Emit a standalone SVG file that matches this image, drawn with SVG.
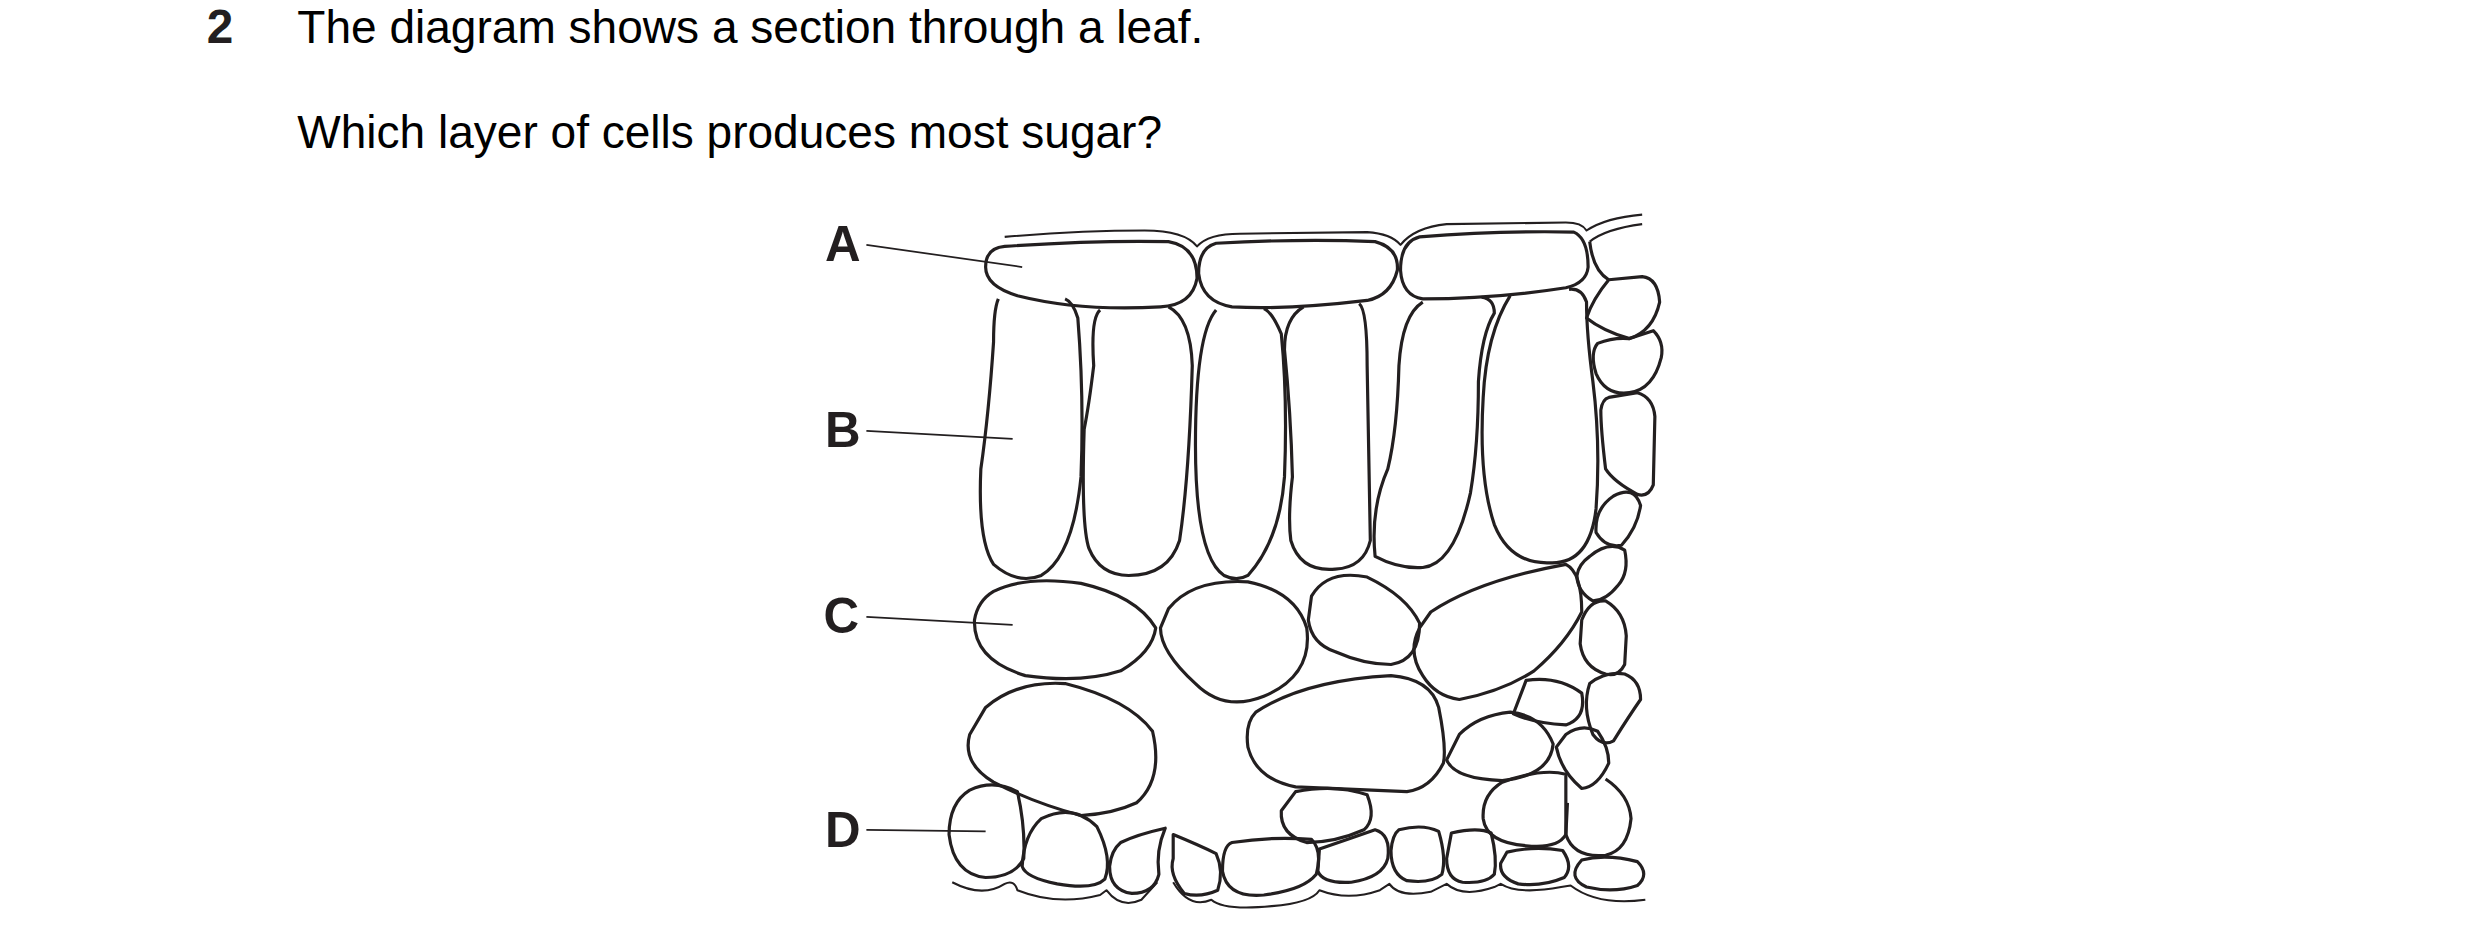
<svg xmlns="http://www.w3.org/2000/svg" width="2480" height="944" viewBox="0 0 2480 944">
<style>
.c{fill:none;stroke:#231f20;stroke-width:2;stroke-linejoin:round}
.l{fill:none;stroke:#231f20;stroke-width:1.1}
.t{font-family:"Liberation Sans",Arial,sans-serif;fill:#000}
.b{font-family:"Liberation Sans",Arial,sans-serif;font-weight:bold;fill:#231f20}
</style>
<rect width="2480" height="944" fill="#fff"/>
<g transform="scale(1.5897)">
<g id="text">
<text class="b" x="130" y="27" font-size="30">2</text>
<text class="t" x="187" y="27" font-size="28.5" textLength="570" lengthAdjust="spacingAndGlyphs">The diagram shows a section through a leaf.</text>
<text class="t" x="187" y="93" font-size="28.5" textLength="544" lengthAdjust="spacingAndGlyphs">Which layer of cells produces most sugar?</text>
</g>
<g id="labels">
<text class="b" x="519" y="164" font-size="31">A</text>
<text class="b" x="519" y="281" font-size="31">B</text>
<text class="b" x="518" y="398" font-size="31">C</text>
<text class="b" x="519" y="533" font-size="31">D</text>
</g>
<g id="connectors">
<path class="l" d="M545,154 L643,168"/>
<path class="l" d="M545,271 L637,276"/>
<path class="l" d="M545,388 L637,393"/>
<path class="l" d="M545,522 L620,523"/>
</g>
<g id="cuticle">
<path class="c" style="stroke-width:1.3" d="M632,149 Q680,145 720,145 Q745,145 753,155 Q760,147 780,147 L860,146 Q875,147 881,154 Q890,143 910,141 L985,140 Q995,140 998,145 Q1010,137 1033,135"/>
<path class="c" style="stroke-width:1.3" d="M1000,152 Q1010,144 1033,141"/>
<path class="c" style="stroke-width:1.3" d="M599,555 Q618,565 632,556 Q638,553 640,560 Q665,570 692,563 L696,560 Q705,572 718,566 L728,555 M738,555 Q748,572 762,566 Q770,573 800,570 Q825,568 830,560 Q848,567 868,560 L874,556 Q880,565 900,561 L910,556 Q920,565 940,558 L944,556 Q955,563 982,558 L988,557 Q1005,570 1035,566"/>
</g>
<g id="upper-epidermis">
<path class="c" d="M632,155 Q690,151 735,152 Q753,155 753,175 Q750,192 730,193 Q680,196 640,186 Q620,180 620,168 Q620,156 632,155Z"/>
<path class="c" d="M765,153 Q820,150 865,152 Q880,156 879,170 Q875,186 860,189 Q810,195 775,193 Q756,190 754,172 Q754,156 765,153Z"/>
<path class="c" d="M893,149 Q945,145 990,146 Q999,150 999,168 Q998,178 985,181 Q940,188 895,188 Q882,186 881,170 Q881,152 893,149Z"/>
<path class="c" d="M1000,152 Q1002,170 1012,176"/>
</g>
<g id="palisade">
<path class="c" d="M628,188 Q625,195 625,215 Q622,260 617,295 Q615,340 625,355 Q640,368 655,362 Q675,350 680,300 Q682,250 678,200 Q675,190 670,188"/>
<path class="c" d="M692,195 Q686,200 688,230 Q685,255 682,270 Q680,330 685,345 Q692,362 710,362 Q735,362 742,340 Q748,300 750,230 Q749,200 735,193"/>
<path class="c" d="M765,195 Q752,210 752,280 Q752,350 770,362 Q778,366 785,362 Q805,340 808,300 Q810,250 806,210 Q800,196 795,194"/>
<path class="c" d="M820,193 Q808,200 808,220 Q812,260 813,300 Q810,325 812,340 Q818,360 840,358 Q858,357 862,340 L860,230 Q860,195 855,191"/>
<path class="c" d="M895,190 Q882,198 880,230 Q879,270 873,295 Q862,320 865,350 Q880,358 895,357 Q915,355 925,310 Q930,280 930,240 Q932,210 940,197 Q940,188 932,187"/>
<path class="c" d="M950,186 Q935,210 933,250 Q930,300 940,330 Q950,355 975,354 Q1000,355 1004,320 Q1007,280 1002,240 Q998,210 998,190 Q995,181 987,182"/>
</g>
<g id="edge-cells">
<path class="c" d="M1012,176 L1033,174 Q1043,175 1044,190 Q1040,208 1025,213 Q1008,208 998,200 Q1002,188 1012,176Z"/>
<path class="c" d="M1005,216 Q1015,212 1025,213 L1040,208 Q1047,215 1045,225 Q1040,245 1025,247 Q1010,249 1004,235 Q1000,222 1005,216Z"/>
<path class="c" d="M1012,250 L1030,247 Q1040,250 1041,262 L1040,305 Q1037,313 1030,311 Q1015,303 1010,295 Q1007,270 1007,258 Q1008,251 1012,250Z"/>
<path class="c" d="M1015,312 Q1028,305 1032,318 Q1030,332 1020,343 Q1010,345 1004,335 Q1003,320 1015,312Z"/>
<path class="c" d="M1000,350 Q1012,340 1022,346 Q1025,360 1018,368 Q1010,378 1002,378 Q992,372 992,362 Q993,355 1000,350Z"/>
<path class="c" d="M995,390 Q1000,377 1010,378 Q1022,385 1023,400 L1022,418 Q1018,426 1010,424 Q996,420 994,405Z"/>
<path class="c" d="M1000,430 Q1010,422 1022,424 Q1032,428 1032,440 Q1025,450 1015,466 Q1008,470 1002,462 Q995,445 1000,430Z"/>
<path class="c" d="M985,462 Q995,455 1005,460 Q1012,470 1012,480 Q1005,495 995,496 Q982,485 979,470Z"/>
<path class="c" d="M1010,490 Q1025,500 1026,515 Q1024,535 1010,538 Q990,540 985,525 L986,505"/>
</g>
<g id="spongy">
<path class="c" d="M625,372 Q645,362 680,367 Q715,375 727,395 Q725,410 705,422 Q680,430 645,425 Q612,415 613,390 Q615,378 625,372Z"/>
<path class="c" d="M735,383 Q750,364 785,366 Q815,372 822,395 Q826,425 795,438 Q770,448 752,430 Q730,410 730,395Z"/>
<path class="c" d="M825,375 Q835,358 860,363 Q885,375 893,392 Q893,415 875,418 Q858,418 840,410 Q825,405 823,390Z"/>
<path class="c" d="M900,385 Q930,365 985,355 Q995,360 995,385 Q985,405 965,422 Q945,435 918,440 Q903,438 895,425 Q885,410 893,395Z"/>
<path class="c" d="M620,445 Q640,428 670,430 Q710,440 725,460 Q732,490 715,505 Q700,512 680,513 Q650,505 625,492 Q605,480 610,462Z"/>
<path class="c" d="M790,448 Q820,428 875,425 Q900,427 905,445 Q910,470 908,480 Q900,496 885,498 L815,495 Q790,490 785,470 Q783,455 790,448Z"/>
<path class="c" d="M918,462 Q930,450 950,448 Q970,450 977,468 Q975,488 945,491 Q915,490 910,478Z"/>
<path class="c" d="M960,428 Q980,425 995,436 Q998,452 985,456 Q965,455 952,449Z"/>
<path class="c" d="M945,492 Q970,483 985,487 L985,525 Q980,534 960,532 Q935,530 933,515 Q932,500 945,492Z"/>
</g>
<g id="lower-epidermis">
<path class="c" d="M610,497 Q625,490 640,498 Q645,520 644,540 Q638,552 620,552 Q600,550 597,525 Q597,505 610,497Z"/>
<path class="c" d="M655,515 Q675,505 690,520 Q700,540 695,553 Q688,560 665,556 Q645,552 643,545 Q644,525 655,515Z"/>
<path class="c" d="M705,530 Q715,525 733,521 Q727,535 729,550 Q726,562 712,562 Q698,560 698,545 Q699,535 705,530Z"/>
<path class="c" d="M738,525 Q755,532 765,537 Q770,548 766,560 Q755,565 745,562 Q735,550 738,540Z"/>
<path class="c" d="M775,530 Q800,526 825,528 Q832,535 828,550 Q820,560 795,563 Q772,565 769,548 Q769,532 775,530Z"/>
<path class="c" d="M815,498 Q840,493 860,500 Q866,515 858,522 Q840,530 822,530 Q805,525 806,510Z"/>
<path class="c" d="M830,534 Q848,528 865,522 Q875,525 873,540 Q870,552 850,555 Q832,556 829,548Z"/>
<path class="c" d="M880,522 Q895,518 905,523 Q910,540 907,550 Q900,556 885,554 Q875,550 875,535 Q876,525 880,522Z"/>
<path class="c" d="M913,524 Q930,520 938,524 Q942,540 940,550 Q935,556 920,555 Q910,553 910,540Z"/>
<path class="c" d="M948,536 Q965,532 983,535 Q990,545 984,552 Q970,558 955,556 Q943,552 944,543Z"/>
<path class="c" d="M995,541 Q1010,537 1030,542 Q1038,550 1030,557 Q1015,562 998,558 Q985,552 995,541Z"/>
</g>
</g>
</svg>
